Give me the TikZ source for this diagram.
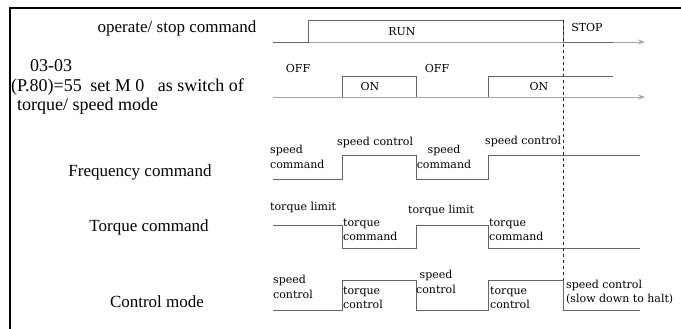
\documentclass[tikz,border=0pt]{standalone}
\usepackage{fontspec}
\setmainfont{Liberation Serif}
\newfontfamily\wavefont{DejaVu Serif}
\usetikzlibrary{arrows.meta}

\begin{document}
\begin{tikzpicture}[x=1pt, y=-1pt,
    frame/.style={line width=2pt},
    wave/.style={draw=black!60, line width=0.8pt},
    axis/.style={draw=black!35, line width=0.8pt, -{Stealth[length=7pt,width=5pt]}},
    rowlabel/.style={font=\fontsize{17}{16}\selectfont, inner sep=0pt},
    sig/.style={font=\wavefont\fontsize{11}{14.5}\selectfont, inner sep=0pt, anchor=west, align=left},
    sigc/.style={sig, anchor=center, align=center}
]
\useasboundingbox (0,0) rectangle (681,329);
\draw[frame] (10,329) -- (10,8) -- (681,8);

% left hand labels
\node[rowlabel] (runlbl) at (177,28) {operate/\ stop command};
\node[rowlabel, font=\fontsize{18}{19.5}\selectfont, anchor=west, align=left] (modelbl) at (11,87)
    {\hspace{19pt}03-03\\(P.80)=55\hspace{4pt} set M 0\hspace{9pt} as switch of\\\hspace{6pt}torque/\ speed mode};
\node[rowlabel] (freqlbl) at (140,172) {Frequency command};
\node[rowlabel] (torqlbl) at (149,227) {Torque command};
\node[rowlabel] (ctrllbl) at (157,302) {Control mode};

% time axes
\coordinate (ax1s) at (273,42);  \coordinate (ax1e) at (645,42);
\coordinate (ax2s) at (273,97);  \coordinate (ax2e) at (645,97);
\draw[axis] (ax1s) -- (ax1e);
\draw[axis] (ax2s) -- (ax2e);

% waveforms
\draw[wave] (273,42) -- (308,42) -- (308,20) -- (563,20) -- (563,42) -- (613,42);
\draw[wave] (342,97) -- (342,76) -- (416,76) -- (416,97);
\draw[wave] (488,97) -- (488,76) -- (613,76);
\draw[wave] (273,179) -- (342,179) -- (342,155) -- (416,155) -- (416,179)
    -- (488,179) -- (488,155) -- (640,155);
\draw[wave] (273,225) -- (342,225) -- (342,248) -- (416,248) -- (416,225)
    -- (488,225) -- (488,248) -- (640,248);
\draw[wave] (273,310) -- (342,310) -- (342,280) -- (416,280) -- (416,310)
    -- (488,310) -- (488,280) -- (563,280) -- (563,310) -- (640,310);
\draw[dashed, black!85, line width=0.7pt] (563,20) -- (563,280);

% signal labels
\node[sigc] (run) at (402,32) {RUN};
\node[sigc] (stop) at (587,27) {STOP};
\node[sigc] (off1) at (298,68) {OFF};
\node[sigc] (on1) at (370,86) {ON};
\node[sigc] (off2) at (437,68) {OFF};
\node[sigc] (on2) at (539,86) {ON};

\node[sig] (spdcmd1) at (270,157) {speed\\command};
\node[sig] (spdctl1) at (337,142) {speed control};
\node[sigc] (spdcmd2) at (444,157) {speed\\command};
\node[sig] (spdctl2) at (485,141) {speed control};

\node[sig] (tqlim1) at (270,207) {torque limit};
\node[sig] (tqcmd1) at (343,230) {torque\\command};
\node[sig] (tqlim2) at (408,210) {torque limit};
\node[sig] (tqcmd2) at (489,230) {torque\\command};

\node[sig] (mode1) at (273,287) {speed\\control};
\node[sig] (mode2) at (343,298) {torque\\control};
\node[sigc] (mode3) at (436,282) {speed\\control};
\node[sig] (mode4) at (490,298) {torque\\control};
\node[sig] (mode5) at (566,292) {speed control\\(slow down to halt)};
\end{tikzpicture}
\end{document}
